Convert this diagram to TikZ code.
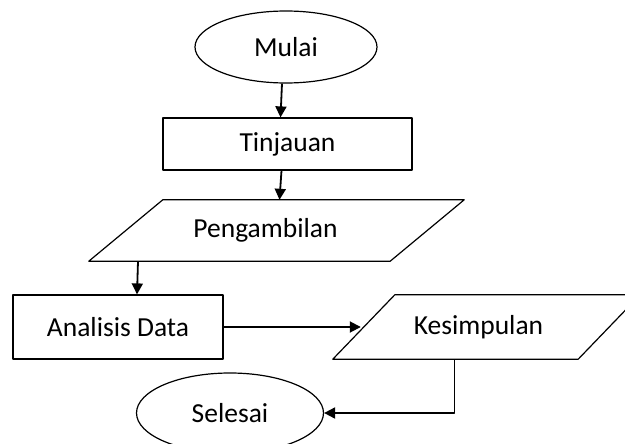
\documentclass[tikz,border=0pt]{standalone}
\usepackage{fontspec}
\setmainfont{Carlito}
\usetikzlibrary{shapes.geometric,arrows.meta}
\tikzset{
  terminal/.style={draw,ellipse,line width=1.2pt,inner sep=0pt},
  proses/.style={draw,rectangle,line width=1.2pt,inner sep=0pt},
  masukan/.style={rectangle,inner sep=0pt},
  garis/.style={line width=1.2pt},
  panah/.style={->,line width=1.8pt}
}
\begin{document}
\begin{tikzpicture}[x=1pt,y=-1pt,line join=round,>={Triangle[length=11pt,width=11pt]},
    every node/.style={font=\fontsize{27.5}{32}\selectfont}]
  \useasboundingbox (0,0) rectangle (625,444);
  \clip (0,0) rectangle (625,444);
  \node[terminal,minimum width=182pt,minimum height=72pt] (mulai) at (286,47) {Mulai};
  \node[proses,minimum width=249pt,minimum height=52pt] (tinjauan) at (287.5,144) {Tinjauan};
  \node[masukan,minimum width=375pt,minimum height=61pt,
        label={[xshift=-11pt]center:Pengambilan}] (pengambilan) at (276.5,230.5) {};
  \node[proses,minimum width=210pt,minimum height=64pt] (analisis) at (118,327) {Analisis Data};
  \node[masukan,minimum width=307pt,minimum height=64pt,
        label={[xshift=-8pt]center:Kesimpulan}] (kesimpulan) at (486.5,327) {};
  \node[terminal,minimum width=187pt,minimum height=80pt] (selesai) at (230,413) {Selesai};
  % jajaran genjang
  \draw[garis] (pengambilan.south west) -- ([xshift=-74pt]pengambilan.south east)
    -- (pengambilan.north east) -- ([xshift=74pt]pengambilan.north west) -- cycle;
  \draw[garis] (kesimpulan.south west) -- ([xshift=-62pt]kesimpulan.south east)
    -- (kesimpulan.north east) -- ([xshift=62pt]kesimpulan.north west) -- cycle;
  % alur
  \draw[panah] ([xshift=-4pt]mulai.south) -- ([xshift=-7pt]tinjauan.north);
  \draw[panah] ([xshift=-6pt]tinjauan.south) -- ([xshift=-8pt]tinjauan.south |- pengambilan.north);
  \draw[panah] ([xshift=20pt]analisis.north |- pengambilan.south) -- ([xshift=19pt]analisis.north);
  \draw[panah] (analisis.east) -- ([xshift=28pt]kesimpulan.west);
  \draw[panah] ([xshift=-32pt]kesimpulan.south) |- (selesai.east);
\end{tikzpicture}
\end{document}
